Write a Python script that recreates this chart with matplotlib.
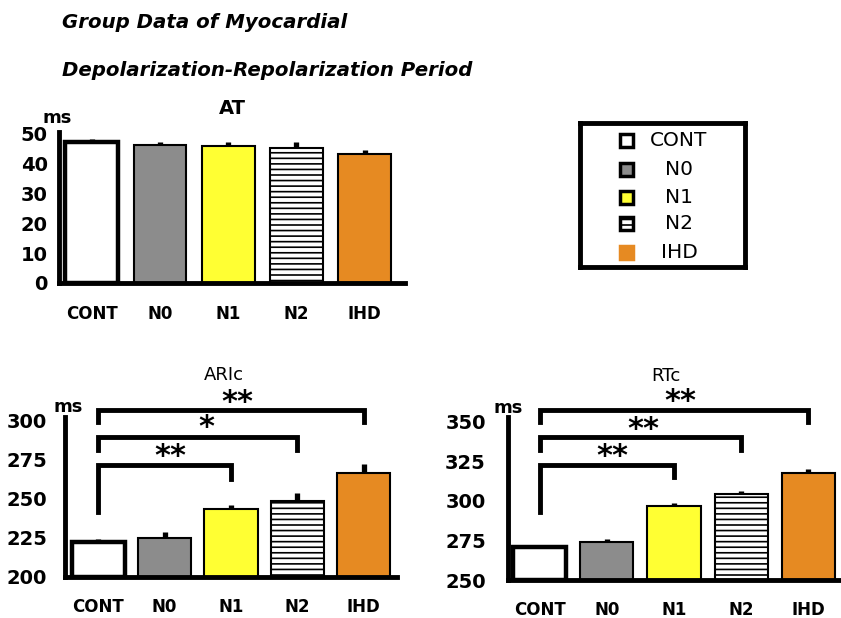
import numpy as np
import matplotlib
matplotlib.use("Agg")
import matplotlib.pyplot as plt
from matplotlib.patches import Rectangle

# dane
groups = ["CONT", "N0", "N1", "N2", "IHD"]
at_mean = [47.2, 46.2, 45.9, 45.3, 43.0]
at_err = [1.1, 1.1, 1.3, 1.7, 1.5]
aric_mean = [222.4, 225.2, 243.6, 248.5, 266.7]
aric_err = [1.7, 3.6, 2.8, 5.3, 5.5]
rtc_mean = [271.0, 274.2, 296.8, 304.2, 317.6]
rtc_err = [1.0, 1.7, 1.9, 2.1, 2.3]
sig_pairs = [(0, 4), (0, 3), (0, 2)]
aric_sig = ["**", "*", "**"]
rtc_sig = ["**", "**", "**"]

face = ["white", "#8c8c8c", "#ffff33", "white", "#e68a22"]
hatch = [None, None, None, "---", None]
edge_w = [3.2, 1.5, 1.5, 1.5, 1.5]

plt.rcParams["font.family"] = "DejaVu Sans"
plt.rcParams["hatch.linewidth"] = 1.2

fig = plt.figure(figsize=(8.41, 6.18), dpi=100)

fig.text(62 / 841, 1 - 22 / 618, "Group Data of Myocardial", fontsize=14.2,
         fontweight="bold", style="italic", va="center")
fig.text(62 / 841, 1 - 70 / 618, "Depolarization-Repolarization Period", fontsize=14.2,
         fontweight="bold", style="italic", va="center")


def bars(ax, mean, err, lo, hi, ticks, width, ypad, xpad):
    x = np.arange(len(groups))
    for i in range(len(groups)):
        ax.bar(x[i], mean[i] - lo, bottom=lo, width=width, color=face[i],
               edgecolor="black", linewidth=edge_w[i], hatch=hatch[i], zorder=2)
    ax.errorbar(x, mean, yerr=[np.zeros(len(err)), err], fmt="none",
                ecolor="black", elinewidth=3.8, capsize=0, zorder=3)
    ax.set_ylim(lo, hi)
    ax.set_yticks(ticks)
    ax.set_xticks(x)
    ax.set_xticklabels(groups, fontsize=12, fontweight="bold")
    ax.tick_params(length=0)
    ax.tick_params(axis="x", pad=xpad)
    ax.tick_params(axis="y", pad=ypad)
    for lab in ax.get_yticklabels():
        lab.set_fontsize(14)
        lab.set_fontweight("bold")
    for s in ["top", "right"]:
        ax.spines[s].set_visible(False)
    ax.spines["left"].set_linewidth(3.5)
    ax.spines["bottom"].set_linewidth(3.5)
    ax.patch.set_alpha(0)


def brackets(ax, labels, levels, star_x):
    for (a, b), lab, (y, yr, yl, ys), sx in zip(sig_pairs, labels, levels, star_x):
        ax.plot([a, a, b, b], [yl, y, y, yr], color="black", lw=3.5,
                clip_on=False, solid_joinstyle="miter", zorder=4)
        ax.text(sx, ys, lab, ha="center", va="center", fontsize=22,
                fontweight="bold")


# AT
ax1 = fig.add_axes([59 / 841, 1 - 283 / 618, 346 / 841, 151 / 618])
bars(ax1, at_mean, at_err, 0, 50.5, [0, 10, 20, 30, 40, 50], 0.77, 8, 16)
ax1.set_xlim(-0.48, 4.59)
ax1.set_title("AT", fontsize=14, fontweight="bold", pad=13)
ax1.text(-0.049, 1.09, "ms", transform=ax1.transAxes, fontsize=13,
         fontweight="bold", ha="left", va="center")

# ARIc
ax2 = fig.add_axes([65 / 841, 1 - 577 / 618, 332 / 841, 160 / 618])
bars(ax2, aric_mean, aric_err, 200, 302.5, [200, 225, 250, 275, 300], 0.8, 13, 15)
ax2.set_xlim(-0.5, 4.5)
ax2.text(1.89, 329.5, "ARIc", fontsize=13, ha="center", va="center")
ax2.text(-0.036, 1.06, "ms", transform=ax2.transAxes, fontsize=13,
         fontweight="bold", ha="left", va="center")
brackets(ax2, aric_sig, [(307.3, 299.4, 299.4, 311.5),
                         (289.7, 281.2, 281.2, 295.5),
                         (271.6, 263.0, 241.7, 277.5)], [2.1, 1.63, 1.08])

# RTc
ax3 = fig.add_axes([508 / 841, 1 - 580 / 618, 332 / 841, 163 / 618])
bars(ax3, rtc_mean, rtc_err, 250, 353, [250, 275, 300, 325, 350], 0.79, 16, 15)
ax3.set_xlim(-0.47, 4.47)
ax3.text(1.88, 379.2, "RTc", fontsize=13, ha="center", va="center")
ax3.text(-0.045, 1.055, "ms", transform=ax3.transAxes, fontsize=13,
         fontweight="bold", ha="left", va="center")
brackets(ax3, rtc_sig, [(357.6, 349.8, 349.8, 362.8),
                        (340.3, 332.4, 332.4, 345.4),
                        (322.5, 315.1, 293.1, 328.1)], [2.09, 1.54, 1.09])

# legenda
lg = fig.add_axes([580 / 841, 1 - 267 / 618, 165 / 841, 144 / 618])
lg.set_xlim(0, 1)
lg.set_ylim(0, 1)
lg.set_xticks([])
lg.set_yticks([])
for s in lg.spines.values():
    s.set_linewidth(3.5)
rows = [0.88, 0.674, 0.48, 0.30, 0.104]
for i, g in enumerate(groups):
    ec = "#e68a22" if g == "IHD" else "black"
    lg.add_patch(Rectangle((0.245, rows[i] - 0.045), 0.075, 0.09, facecolor=face[i],
                           edgecolor=ec, linewidth=2.5, hatch="---" if hatch[i] else None))
    lg.text(0.6, rows[i], g, ha="center", va="center", fontsize=14.5)

fig.savefig("out.png", dpi=100)
